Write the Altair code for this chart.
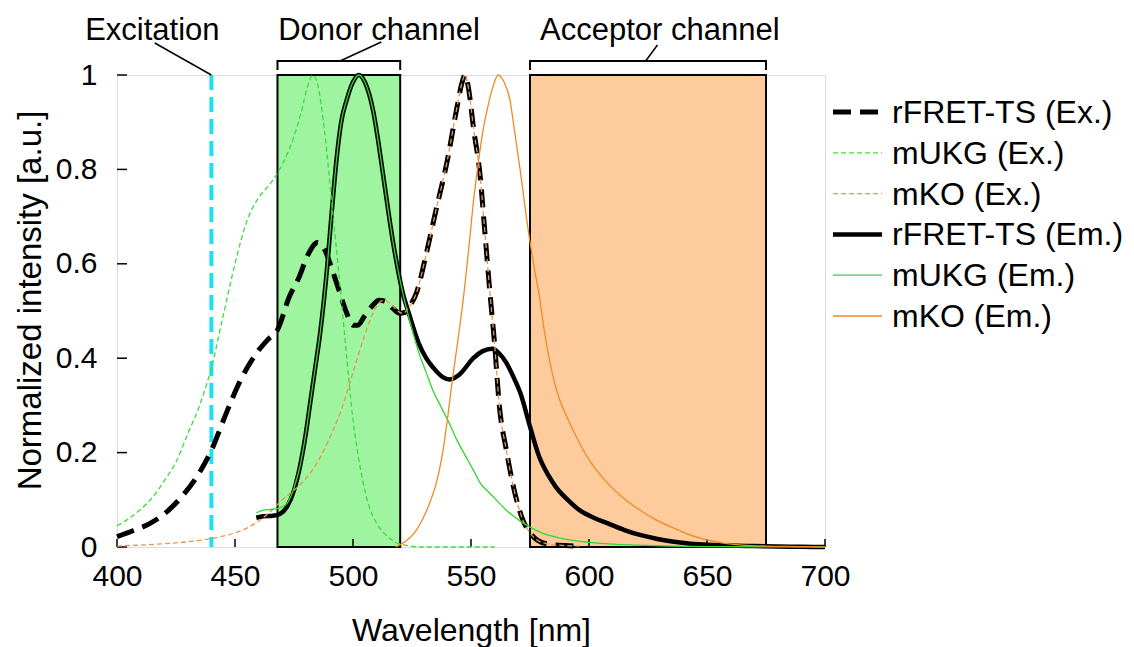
import altair as alt
import pandas as pd

# ---------------- data ----------------
X_TICKS = [400, 450, 500, 550, 600, 650, 700]
Y_TICKS = [0, 0.2, 0.4, 0.6, 0.8, 1]

SERIES = ["rFRET-TS (Ex.)", "mUKG (Ex.)", "mKO (Ex.)",
          "rFRET-TS (Em.)", "mUKG (Em.)", "mKO (Em.)"]

BAND_NAMES = ["Donor channel", "Acceptor channel"]
BAND_START = [468, 575]
BAND_END = [520, 675]
EXCITATION_WL = [440]

RFRET_EX_WL = [400, 407, 414, 420, 428, 434, 440, 446, 452, 459, 464, 468, 473, 477, 481, 485,
               488, 491, 494, 497, 500, 502, 505, 508, 511, 514, 517, 520, 522, 524, 527, 531,
               535, 540, 544, 546, 547.5, 549, 551, 554, 555.5, 558, 560, 562, 565, 568, 572,
               575, 578, 583, 590, 596]
RFRET_EX_V = [0.022, 0.035, 0.05, 0.07, 0.11, 0.15, 0.205, 0.28, 0.35, 0.41, 0.44, 0.46, 0.53,
              0.57, 0.62, 0.645, 0.63, 0.59, 0.545, 0.50, 0.47, 0.47, 0.49, 0.51, 0.523, 0.52,
              0.505, 0.495, 0.497, 0.51, 0.54, 0.62, 0.71, 0.82, 0.93, 0.98, 1.0, 0.97, 0.89,
              0.78, 0.69, 0.54, 0.43, 0.30, 0.205, 0.127, 0.057, 0.03, 0.015, 0.006, 0.003, 0.002]

MUKG_EX_WL = [400, 405, 410, 415, 420, 425, 430, 435, 440, 445, 450, 455, 460, 465, 470, 475,
              478, 481, 483, 485, 488, 491, 494, 497, 500, 503, 506, 510, 514, 518, 522, 526,
              530, 545, 560]
MUKG_EX_V = [0.045, 0.06, 0.08, 0.105, 0.14, 0.18, 0.24, 0.30, 0.38, 0.49, 0.60, 0.69, 0.74,
             0.77, 0.81, 0.87, 0.92, 0.98, 1.0, 0.98, 0.88, 0.73, 0.58, 0.42, 0.27, 0.17, 0.10,
             0.05, 0.025, 0.01, 0.004, 0.001, 0.0, 0.0, 0.0]

MKO_EX_WL = [400, 410, 420, 430, 440, 450, 455, 460, 465, 470, 475, 480, 485, 490, 495, 500,
             505, 508, 510, 513, 516, 519, 521, 524, 527, 531, 535, 540, 544, 546, 547.5, 549,
             551, 554, 555.5, 558, 560, 562, 565, 568, 572, 575, 578, 583, 590, 596]
MKO_EX_V = [0.002, 0.004, 0.007, 0.011, 0.018, 0.03, 0.04, 0.055, 0.075, 0.10, 0.12, 0.145,
            0.18, 0.23, 0.29, 0.37, 0.45, 0.49, 0.51, 0.523, 0.515, 0.50, 0.495, 0.51, 0.54,
            0.62, 0.71, 0.82, 0.93, 0.98, 1.0, 0.97, 0.89, 0.78, 0.69, 0.54, 0.43, 0.30, 0.205,
            0.127, 0.057, 0.03, 0.015, 0.006, 0.003, 0.002]

RFRET_EM_WL = [459, 462, 466, 469, 472, 475, 477.5, 480, 482, 484, 486, 489, 491, 493, 495,
               497.5, 500, 502.5, 505, 508.5, 511, 513, 517, 521, 524, 528, 531, 534, 538, 541,
               545, 551, 555, 559, 562, 565, 568, 571, 575, 579, 583, 586, 591, 596, 602, 608,
               615, 622, 629, 636, 643, 650, 660, 670, 680, 690, 700]
RFRET_EM_V = [0.062, 0.065, 0.066, 0.07, 0.085, 0.12, 0.17, 0.24, 0.31, 0.38, 0.45, 0.59, 0.71,
              0.82, 0.90, 0.95, 0.985, 1.0, 0.985, 0.925, 0.85, 0.78, 0.645, 0.54, 0.49, 0.43,
              0.40, 0.38, 0.36, 0.355, 0.365, 0.40, 0.415, 0.42, 0.41, 0.39, 0.36, 0.325, 0.255,
              0.19, 0.15, 0.127, 0.10, 0.078, 0.062, 0.05, 0.036, 0.025, 0.017, 0.011, 0.007,
              0.005, 0.003, 0.002, 0.001, 0.0005, 0.0]

MUKG_EM_WL = [459, 462, 466, 469, 472, 475, 477.5, 480, 482, 484, 486, 489, 491, 493, 495,
              497.5, 500, 502.5, 505, 508.5, 511, 513, 517, 521, 524, 528, 531, 534, 537, 541,
              544, 548, 551, 554, 558, 565, 570, 575, 580, 586, 593, 600, 610, 620, 635, 650, 700]
MUKG_EM_V = [0.072, 0.078, 0.08, 0.083, 0.092, 0.125, 0.17, 0.24, 0.31, 0.38, 0.45, 0.59, 0.71,
             0.82, 0.90, 0.95, 0.985, 1.0, 0.985, 0.925, 0.85, 0.78, 0.645, 0.54, 0.48, 0.41,
             0.37, 0.33, 0.30, 0.26, 0.227, 0.19, 0.163, 0.135, 0.114, 0.078, 0.058, 0.042,
             0.03, 0.021, 0.014, 0.01, 0.006, 0.004, 0.002, 0.001, 0.0]

MKO_EM_WL = [518, 520, 523, 526, 529.6, 533, 535, 538, 540, 542, 544.5, 546.6, 549, 551, 553,
             555, 557, 559, 561.5, 564, 566.5, 568.5, 570.8, 574, 576.5, 579, 581, 583.5, 587,
             590.7, 595, 600, 607, 614, 621, 628.6, 636, 643, 650, 657, 665, 675, 690, 700]
MKO_EM_V = [0.0, 0.005, 0.015, 0.03, 0.06, 0.10, 0.13, 0.20, 0.27, 0.35, 0.44, 0.52, 0.63,
            0.73, 0.81, 0.88, 0.93, 0.97, 1.0, 0.985, 0.947, 0.88, 0.80, 0.68, 0.60, 0.53,
            0.46, 0.39, 0.32, 0.275, 0.23, 0.185, 0.14, 0.106, 0.08, 0.057, 0.04, 0.025, 0.015,
            0.008, 0.004, 0.002, 0.001, 0.0]

CURVES = {
    "rFRET-TS (Ex.)": (RFRET_EX_WL, RFRET_EX_V),
    "rFRET-TS (Em.)": (RFRET_EM_WL, RFRET_EM_V),
    "mUKG (Ex.)": (MUKG_EX_WL, MUKG_EX_V),
    "mKO (Ex.)": (MKO_EX_WL, MKO_EX_V),
    "mUKG (Em.)": (MUKG_EM_WL, MUKG_EM_V),
    "mKO (Em.)": (MKO_EM_WL, MKO_EM_V),
}
DRAW_ORDER = ["rFRET-TS (Ex.)", "rFRET-TS (Em.)", "mUKG (Ex.)", "mKO (Ex.)",
              "mUKG (Em.)", "mKO (Em.)"]

# ---------------- styles / layout ----------------
FONT = "Liberation Sans"
W, H = 708, 472
STYLE = {
    "rFRET-TS (Ex.)": dict(color="black", width=5, dash=[18, 9]),
    "mUKG (Ex.)": dict(color="#3ddc3d", width=1.3, dash=[5, 3]),
    "mKO (Ex.)": dict(color="#e8964e", width=1.3, dash=[5, 3]),
    "rFRET-TS (Em.)": dict(color="black", width=4.5, dash=None),
    "mUKG (Em.)": dict(color="#2fd82f", width=1.3, dash=None),
    "mKO (Em.)": dict(color="#f08a26", width=1.3, dash=None),
}
BAND_FILL = ["#9ff59f", "#fdcb9c"]
CYAN = "#1fe0f0"

XS = alt.Scale(domain=[400, 700], nice=False, zero=False)
YS = alt.Scale(domain=[0, 1], nice=False, zero=False)

AX_X = alt.Axis(values=X_TICKS, ticks=False, domain=False, grid=False, labelFlush=False,
                labelFont=FONT, labelFontSize=30, labelColor="black", labelPadding=14,
                title="Wavelength [nm]", titleFont=FONT, titleFontSize=32,
                titleFontWeight="normal", titleColor="black", titleY=93,
                titleBaseline="alphabetic")
AX_Y = alt.Axis(values=Y_TICKS, format="~g", ticks=False, domain=False, grid=False,
                labelFlush=False, labelFont=FONT, labelFontSize=30, labelColor="black",
                labelPadding=20, title="Normalized intensity [a.u.]", titleFont=FONT,
                titleFontSize=33, titleFontWeight="normal", titleColor="black",
                titleX=-70, titleY=225, titleAngle=270, titleBaseline="bottom",
                titleAlign="center")

layers = []

bands = pd.DataFrame({"name": BAND_NAMES, "start": BAND_START, "end": BAND_END})
layers.append(
    alt.Chart(bands).mark_rect(stroke="black", strokeWidth=2).encode(
        x=alt.X("start:Q", scale=XS, axis=AX_X),
        x2="end:Q",
        y=alt.value(0), y2=alt.value(H),
        fill=alt.Fill("name:N", scale=alt.Scale(domain=BAND_NAMES, range=BAND_FILL), legend=None),
    )
)

exc = pd.DataFrame({"wl": EXCITATION_WL})
layers.append(
    alt.Chart(exc).mark_rule(color=CYAN, strokeWidth=4, strokeDash=[15, 7]).encode(
        x=alt.X("wl:Q", scale=XS, axis=AX_X), y=alt.value(0), y2=alt.value(H)
    )
)

# inward ticks
xt = pd.DataFrame({"t": X_TICKS})
layers.append(
    alt.Chart(xt).mark_rule(color="black", strokeWidth=1.5).encode(
        x=alt.X("t:Q", scale=XS, axis=AX_X), y=alt.value(H), y2=alt.value(H - 8)
    )
)
yt = pd.DataFrame({"t": Y_TICKS})
layers.append(
    alt.Chart(yt).mark_rule(color="black", strokeWidth=1.5).encode(
        y=alt.Y("t:Q", scale=YS, axis=AX_Y), x=alt.value(0), x2=alt.value(10)
    )
)

for name in DRAW_ORDER:
    wl, v = CURVES[name]
    st = STYLE[name]
    kw = dict(color=st["color"], strokeWidth=st["width"], interpolate="monotone")
    if st["dash"]:
        kw["strokeDash"] = st["dash"]
    df = pd.DataFrame({"wl": wl, "v": v})
    layers.append(
        alt.Chart(df).mark_line(**kw).encode(
            x=alt.X("wl:Q", scale=XS, axis=AX_X),
            y=alt.Y("v:Q", scale=YS, axis=AX_Y),
            order="wl:Q",
        )
    )

# annotations above the plot
ANN_TEXT = ["Excitation", "Donor channel", "Acceptor channel"]
ANN_X = [415, 511, 630]
ann = pd.DataFrame({"label": ANN_TEXT, "x": ANN_X})
layers.append(
    alt.Chart(ann).mark_text(font=FONT, fontSize=31, color="black", align="center",
                             baseline="alphabetic").encode(
        x=alt.X("x:Q", scale=XS, axis=AX_X), y=alt.value(-35), text="label:N"
    )
)
# brackets
layers.append(
    alt.Chart(bands).mark_rule(color="black", strokeWidth=2).encode(
        x=alt.X("start:Q", scale=XS, axis=AX_X), x2="end:Q", y=alt.value(-14)
    )
)
for col in ["start", "end"]:
    layers.append(
        alt.Chart(bands).mark_rule(color="black", strokeWidth=2).encode(
            x=alt.X(f"{col}:Q", scale=XS, axis=AX_X), y=alt.value(-15), y2=alt.value(-5)
        )
    )
# leader lines: (x from, y px from, x to, y px to)
LEADERS = [(416, -32, 440, 0), (494.5, -14, 512, -33), (624, -14, 629, -30)]
for x1, y1, x2, y2 in LEADERS:
    d = pd.DataFrame({"a": [x1], "b": [x2]})
    layers.append(
        alt.Chart(d).mark_rule(color="black", strokeWidth=1.5).encode(
            x=alt.X("a:Q", scale=XS, axis=AX_X), x2="b:Q", y=alt.value(y1), y2=alt.value(y2)
        )
    )

# legend (manual, right of plot)
LEG_X0, LEG_X1, LEG_TX = 716, 765, 775
LEG_Y0, LEG_DY = 37, 40.8
for i, name in enumerate(SERIES):
    st = STYLE[name]
    yy = LEG_Y0 + i * LEG_DY
    kw = dict(color=st["color"], strokeWidth=st["width"])
    if st["dash"]:
        kw["strokeDash"] = st["dash"]
    d = pd.DataFrame({"label": [name]})
    layers.append(
        alt.Chart(d).mark_rule(**kw).encode(
            x=alt.value(LEG_X0), x2=alt.value(LEG_X1), y=alt.value(yy)
        )
    )
    layers.append(
        alt.Chart(d).mark_text(font=FONT, fontSize=32, color="black", align="left",
                               baseline="middle").encode(
            x=alt.value(LEG_TX), y=alt.value(yy + 1), text="label:N"
        )
    )

chart = alt.layer(*layers).properties(
    width=W, height=H,
    padding={"left": 109, "top": 67, "right": 300, "bottom": 100},
    autosize=alt.AutoSizeParams(type="none"),
).configure_view(stroke="black", strokeWidth=2).configure(font=FONT)

chart.save("out.html", embed_options={"renderer": "svg", "actions": False})
